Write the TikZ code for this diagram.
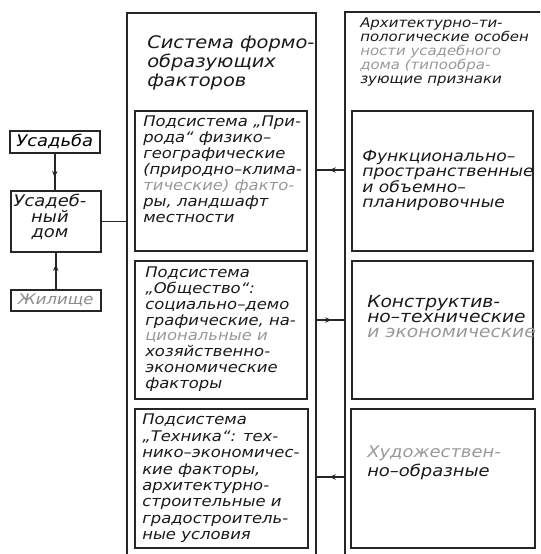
\documentclass[tikz,border=0pt]{standalone}
\usepackage{fontspec}
\setmainfont{DejaVu Sans}[FakeStretch=1.12]
\usetikzlibrary{fit,decorations.markings,arrows.meta}
\tikzset{
  outerbox/.style={draw=black!85, line width=2.2pt, inner sep=0pt},
  innerbox/.style={draw=black!85, line width=1.2pt, inner sep=0pt},
  txt/.style={inner sep=0pt, anchor=north west, align=left, text=black!90},
  link/.style={draw=black!85, line width=1.1pt},
  midarrow/.style={postaction={decorate}, decoration={markings,
      mark=at position #1 with {\arrow{Stealth[length=5pt,width=4pt]}}}},
  midarrow/.default=0.5,
}
\newcommand{\fnt}[2]{\itshape\fontsize{#1}{#2}\selectfont}
\begin{document}
\begin{tikzpicture}[x=0.75pt,y=-0.75pt]
\useasboundingbox (0,0) rectangle (540,554);
\fill[white] (0,0) rectangle (540,554);
\clip (0,0) rectangle (540,554);

% outer columns
\node[outerbox, fit={(127,13) (316,600)}] (sys) {};
\node[outerbox, fit={(345,12) (600,600)}] (arch) {};

% inner boxes, left column
\node[innerbox, fit={(135,111) (307,251)}] (p1) {};
\node[innerbox, fit={(135,261) (307,399)}] (p2) {};
\node[innerbox, fit={(135,409) (308,548)}] (p3) {};
% inner boxes, right column
\node[innerbox, fit={(352,111) (533,251)}] (q1) {};
\node[innerbox, fit={(352,261) (533,399)}] (q2) {};
\node[innerbox, fit={(351,409) (535,548)}] (q3) {};

% headers
\node[txt, font=\fnt{13}{14.25}] (hl) at (147,35)
  {Система формо-\\образующих\\факторов};
\node[txt, font=\fnt{10}{10.5}] (hr) at (360,18)
  {Архитектурно–ти-\\пологические особен\\{\color{black!40}ности усадебного}\\{\color{black!40}дома (типообра-}\\зующие признаки};

% left column texts
\node[txt, font=\fnt{11}{12}] (t1) at (143,116)
  {Подсистема „При-\\рода“ физико–\\географические\\(природно–клима-\\{\color{black!40}тические) факто-}\\ры, ландшафт\\местности};
\node[txt, font=\fnt{11}{11.8}] (t2) at (145,267)
  {Подсистема\\„Общество“:\\социально–демо\\графические, на-\\{\color{black!40}циональные и}\\хозяйственно-\\экономические\\факторы};
\node[txt, font=\fnt{11}{12.3}] (t3) at (142,414)
  {Подсистема\\„Техника“: тех-\\нико–экономичес-\\кие факторы,\\архитектурно-\\строительные и\\градостроитель-\\ные условия};

% right column texts
\node[txt, font=\fnt{11.5}{11.25}] (s1) at (362,150)
  {Функционально–\\пространственные\\и объемно–\\планировочные};
\node[txt, font=\fnt{12.5}{11.25}] (s2) at (367,295)
  {Конструктив-\\но–технические\\{\color{black!40}и экономические}};
\node[txt, font=\fnt{12}{14.25}] (s3) at (367,446)
  {{\color{black!40}Художествен-}\\но–образные};

% small boxes on the left
\node[innerbox, minimum width=67.5pt, minimum height=16.5pt, anchor=north west,
      font=\fnt{12}{13}] (usad) at (9,130) {Усадьба};
\node[innerbox, minimum width=67.5pt, minimum height=45.75pt, anchor=north west] (dom) at (10,190) {};
\node[txt, anchor=north, align=center, font=\fnt{12}{11.5}] (domt) at (50,194) {Усадеб-\\ный\\дом};
\node[innerbox, minimum width=67.5pt, minimum height=16pt, anchor=north west,
      font=\fnt{11}{12}, text=black!45] (zhil) at (10,289) {Жилище};

% connectors
\draw[link, midarrow=0.66] (usad.south) -- (usad.south |- dom.north);
\draw[link, midarrow=0.68] (zhil.north) -- (zhil.north |- dom.south);
\draw[link] (dom.east) -- (dom.east -| sys.west);

\coordinate (r1) at (330,170);
\coordinate (r2) at (330,320);
\coordinate (r3) at (330,477);
\draw[link, line width=0.9pt, midarrow=0.55] (arch.west |- r1) -- (sys.east |- r1);
\draw[link, line width=0.9pt, midarrow=0.55] (sys.east |- r2) -- (arch.west |- r2);
\draw[link, line width=0.9pt, midarrow=0.55] (arch.west |- r3) -- (sys.east |- r3);
\end{tikzpicture}
\end{document}
